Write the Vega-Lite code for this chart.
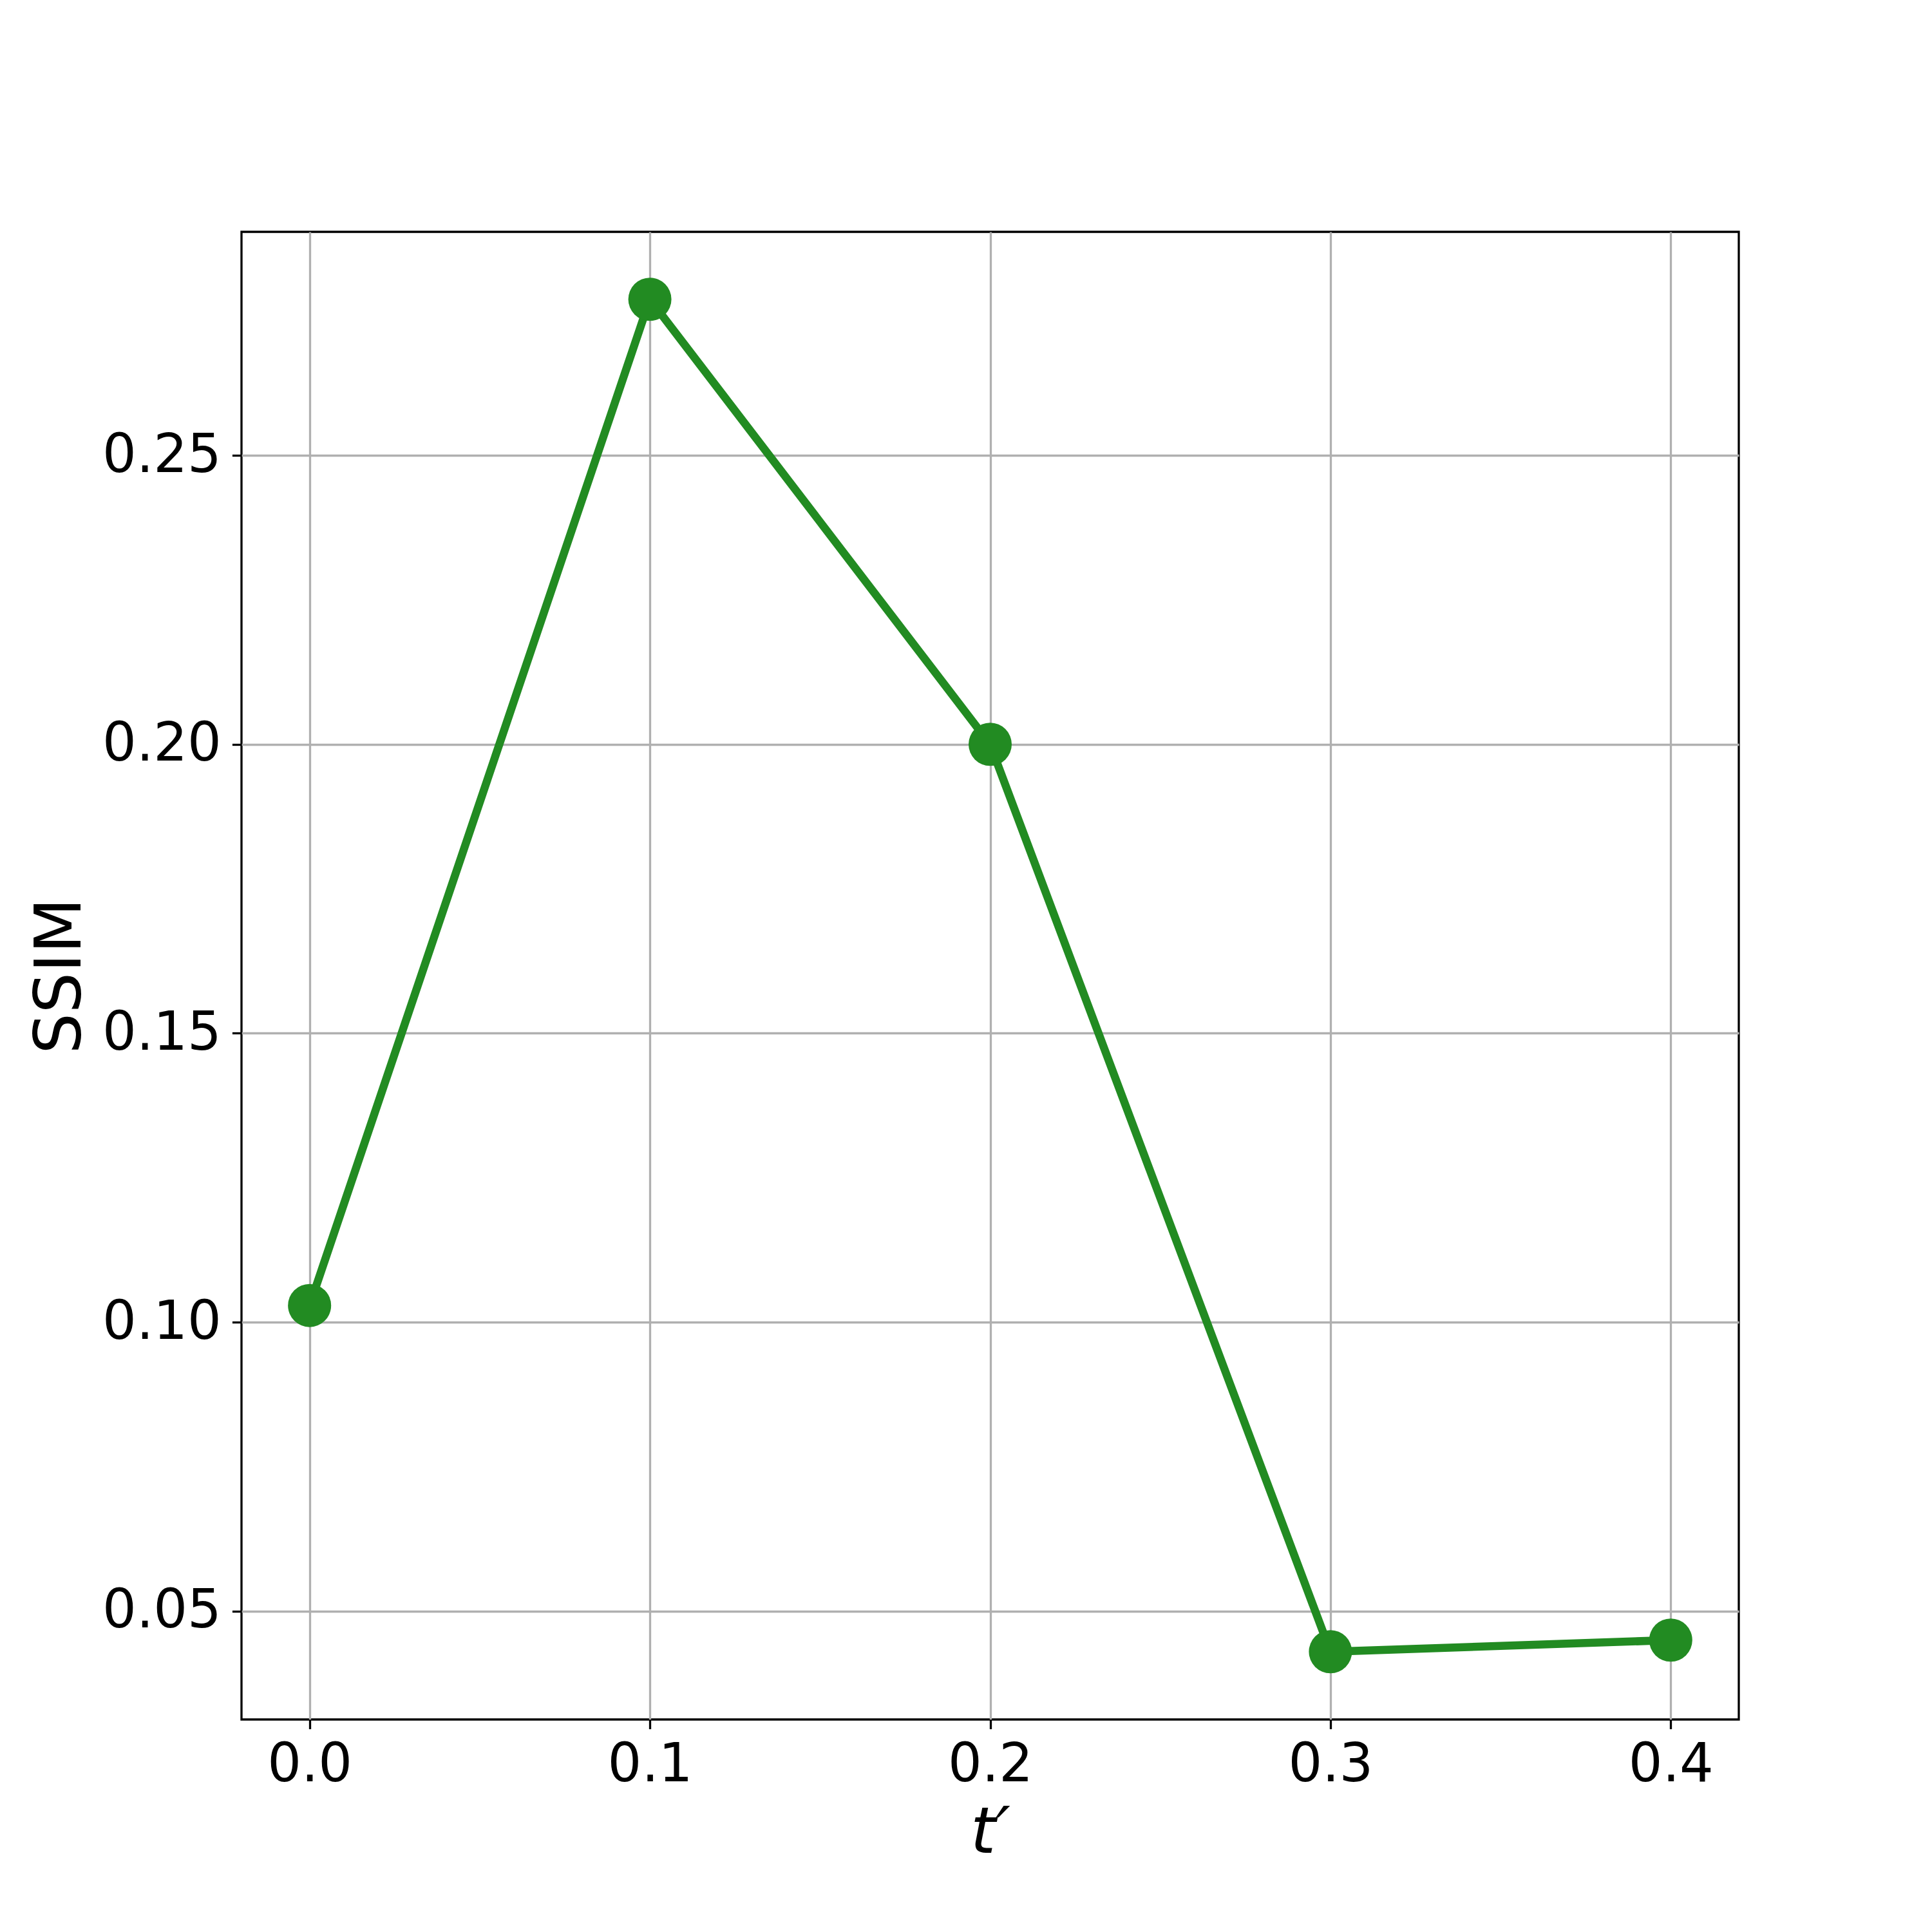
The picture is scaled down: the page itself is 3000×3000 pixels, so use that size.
{
  "$schema": "https://vega.github.io/schema/vega-lite/v6.json",
  "autosize": "none",
  "width": 2325,
  "height": 2310,
  "padding": {"left": 375, "top": 360, "right": 300, "bottom": 330},
  "background": "white",
  "config": {
    "view": {"stroke": "black", "strokeWidth": 3.3, "fill": "white"},
    "axis": {
      "labelFont": "DejaVu Sans",
      "labelFontSize": 83,
      "labelColor": "black",
      "labelLimit": 0,
      "titleFont": "DejaVu Sans",
      "titleFontSize": 100,
      "titleFontWeight": "normal",
      "titleColor": "black",
      "domain": false,
      "tickColor": "black",
      "tickWidth": 3.3,
      "tickSize": 14.6,
      "gridColor": "#b0b0b0",
      "gridWidth": 3.3,
      "gridOpacity": 1
    }
  },
  "data": {
    "values": [
      {"t": 0.0, "ssim": 0.1029},
      {"t": 0.1, "ssim": 0.2770},
      {"t": 0.2, "ssim": 0.2000},
      {"t": 0.3, "ssim": 0.0430},
      {"t": 0.4, "ssim": 0.0450}
    ]
  },
  "encoding": {
    "x": {
      "field": "t",
      "type": "quantitative",
      "scale": {"domain": [-0.02, 0.42], "nice": false, "zero": false},
      "axis": {
        "title": "t′",
        "titleFontStyle": "italic",
        "values": [0, 0.1, 0.2, 0.3, 0.4],
        "format": ".1f",
        "labelPadding": 15,
        "titlePadding": 15
      }
    },
    "y": {
      "field": "ssim",
      "type": "quantitative",
      "scale": {"domain": [0.03127, 0.28867], "nice": false, "zero": false},
      "axis": {
        "title": "SSIM",
        "values": [0.05, 0.1, 0.15, 0.2, 0.25],
        "format": ".2f",
        "labelPadding": 17,
        "titlePadding": 30
      }
    }
  },
  "layer": [
    {"mark": {"type": "line", "color": "#228B22", "strokeWidth": 12.5}},
    {"mark": {"type": "point", "filled": true, "shape": "circle", "color": "#228B22", "opacity": 1, "size": 4489}}
  ]
}
